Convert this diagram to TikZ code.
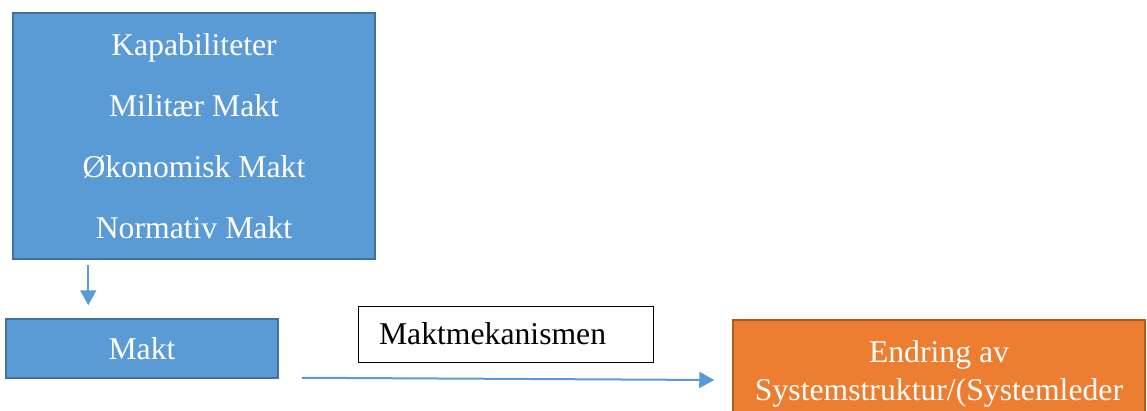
\documentclass[tikz,border=0pt]{standalone}
\usepackage{fontspec}
\setmainfont{Liberation Serif}
\usetikzlibrary{arrows.meta,positioning,calc}
\definecolor{boxblue}{HTML}{5B9BD5}
\definecolor{edgeblue}{HTML}{41719C}
\definecolor{boxorange}{HTML}{ED7D31}
\definecolor{edgeorange}{HTML}{AE5A21}

\begin{document}
\begin{tikzpicture}[x=1pt,y=-1pt,
  bluebox/.style={draw=edgeblue, fill=boxblue, line width=1.5pt, text=white, inner sep=0pt},
  flow/.style={draw=boxblue, line width=2pt, -{Triangle[length=15pt,width=16pt]}}]
  \useasboundingbox (0,0) rectangle (1147,410);

  \node (kap) [bluebox, minimum width=362, minimum height=246, align=center,
    font=\fontsize{31.7}{61}\selectfont] at (194,136)
    {Kapabiliteter\\Militær Makt\\Økonomisk Makt\\Normativ Makt};
  \node (makt) [bluebox, minimum width=272, minimum height=59,
    font=\fontsize{31.7}{38}\selectfont] at (142,348.5) {Makt};
  \node (mek) [draw=black, line width=1pt, fill=white, inner xsep=21, inner ysep=0,
    text width=253, minimum height=56, align=left,
    font=\fontsize{31.7}{38}\selectfont] at (505.5,334) {Maktmekanismen};
  \node (endr) [draw=edgeorange, fill=boxorange, line width=1.5pt, text=white,
    inner sep=0pt, minimum width=412, minimum height=107, align=center,
    font=\fontsize{31.7}{38}\selectfont] at (939,373.5)
    {Endring av\\Systemstruktur/(Systemleder};

  \draw[flow] ($(kap.south west)+(76,5)$) -- ($(makt.north west)+(83,-13)$);
  \draw[flow] ($(makt.south east)+(23,-1)$) -- ($(endr.west)+(-18,6.5)$);
\end{tikzpicture}
\end{document}
